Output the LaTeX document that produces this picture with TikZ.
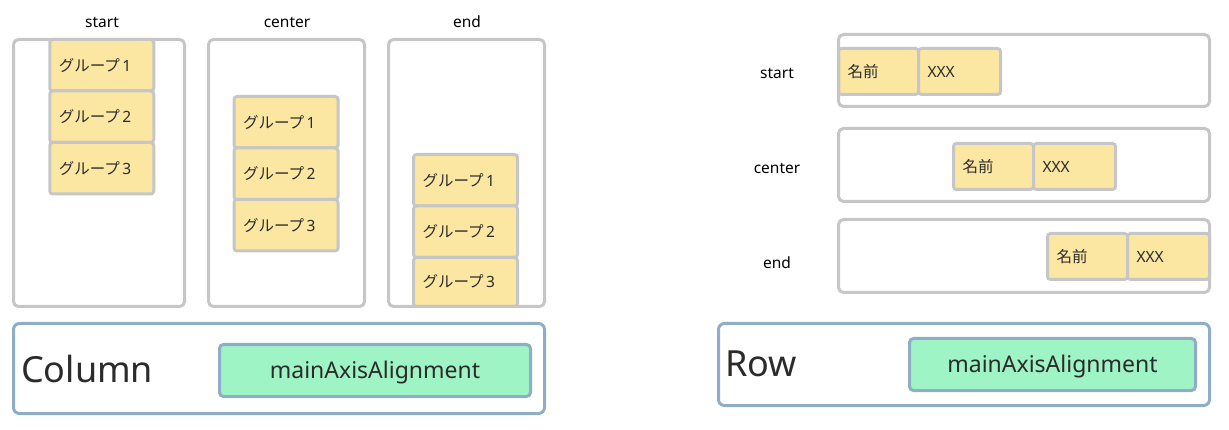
\documentclass[tikz,border=0pt]{standalone}
\usepackage{fontspec}
\setmainfont{Noto Sans}
\newfontfamily\jpfont{Noto Sans CJK JP}
\newcommand{\grouplabel}[1]{グループ\hspace{2.5pt}{\rmfamily #1}}
\definecolor{boxgray}{HTML}{C6C6C6}
\definecolor{itemyellow}{HTML}{FCE7A2}
\definecolor{axisgreen}{HTML}{9EF4C4}
\definecolor{axisblue}{HTML}{8FADC6}
\definecolor{inkgray}{HTML}{2B2B2B}
\tikzset{
	holder/.style={draw=boxgray, line width=3pt, rounded corners=5pt, inner sep=0pt},
	item/.style={draw=boxgray, fill=itemyellow, line width=3pt, rounded corners=3pt, inner xsep=9pt, inner ysep=0pt, align=left, text=inkgray, font=\jpfont\fontsize{15.5}{18}\selectfont},
	grp/.style={item, text width=86pt, minimum height=51.5pt},
	namecell/.style={item, text width=62pt, minimum height=46pt},
	valcell/.style={item, text width=64pt, minimum height=46pt, font=\fontsize{15.5}{18}\selectfont},
	axisbox/.style={draw=axisblue, line width=3pt, rounded corners=6pt, inner sep=0pt},
	axisprop/.style={axisbox, fill=axisgreen, rounded corners=4pt, text=inkgray, text height=16.5pt, text depth=0pt, font=\fontsize{23}{28}\selectfont},
	title/.style={anchor=base west, inner sep=0pt, text=inkgray, font=\fontsize{36}{42}\selectfont},
	caption/.style={anchor=base, inner sep=0pt, font=\fontsize{15.5}{18}\selectfont},
}
\begin{document}
\begin{tikzpicture}[x=1pt, y=-1pt]
		\useasboundingbox (0,0) rectangle (1229,430);
		
		% Column: groups
		\node[grp] (s1) at (101.75,65.25) {\grouplabel{1}};
		\node[grp] (s2) at (101.75,116.75) {\grouplabel{2}};
		\node[grp] (s3) at (101.75,168.25) {\grouplabel{3}};
		\node[grp] (c1) at (286,122.25) {\grouplabel{1}};
		\node[grp] (c2) at (286,173.75) {\grouplabel{2}};
		\node[grp] (c3) at (286,225.25) {\grouplabel{3}};
		\node[grp] (e1) at (465.5,180.25) {\grouplabel{1}};
		\node[grp] (e2) at (465.5,231.75) {\grouplabel{2}};
		\node[grp, minimum height=49pt] (e3) at (465.5,282) {\grouplabel{3}};
		
		\node[holder, minimum width=171pt, minimum height=267pt] (colstart) at (99,173) {};
		\node[holder, minimum width=156pt, minimum height=267pt] (colcenter) at (286.5,173) {};
		\node[holder, minimum width=156pt, minimum height=267pt] (colend) at (466.5,173) {};
		
		\node[caption] (capcs) at (102,28) {start};
		\node[caption] (capcc) at (287,28) {center};
		\node[caption] (capce) at (467,28) {end};
		
		% Row: cells
		\node[namecell] (rsn) at (878.5,71.5) {名前};
		\node[valcell] (rsv) at (959.5,71.5) {XXX};
		\node[namecell] (rcn) at (993.5,166.5) {名前};
		\node[valcell] (rcv) at (1074.5,166.5) {XXX};
		\node[namecell] (ren) at (1087.5,256.5) {名前};
		\node[valcell] (rev) at (1168.5,256.5) {XXX};
		
		\node[holder, minimum width=371pt, minimum height=72pt] (rowstart) at (1024,70.5) {};
		\node[holder, minimum width=371pt, minimum height=73pt] (rowcenter) at (1024,165) {};
		\node[holder, minimum width=371pt, minimum height=73pt] (rowend) at (1024,256) {};
		
		\node[caption] (caprs) at (777,79) {start};
		\node[caption] (caprc) at (777,174) {center};
		\node[caption] (capre) at (777,269) {end};
		
		% axis boxes
		\node[axisbox, minimum width=531pt, minimum height=90pt] (colaxis) at (279,368.5) {};
		\node[axisprop, minimum width=311pt, minimum height=52pt] (colprop) at (375,370.5) {mainAxisAlignment};
		\node[title] (coltitle) at (21,382) {Column};
		
		\node[axisbox, minimum width=491pt, minimum height=82pt] (rowaxis) at (964,364.5) {};
		\node[axisprop, minimum width=286pt, minimum height=52pt] (rowprop) at (1052.5,364.5) {mainAxisAlignment};
		\node[title] (rowtitle) at (725,377) {Row};
		
	\end{tikzpicture}
\end{document}
